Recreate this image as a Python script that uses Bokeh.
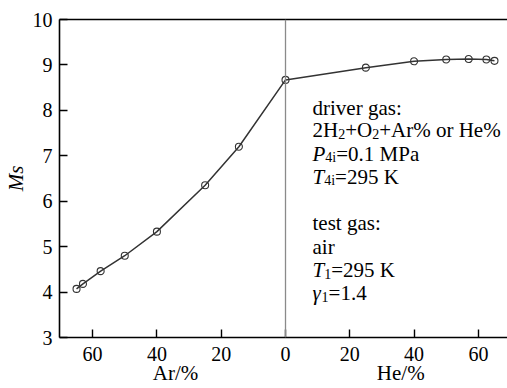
import math
from bokeh.plotting import figure
from bokeh.models import (LinearAxis, FixedTicker, CustomJSTickFormatter, Span, Label, Range1d)
from bokeh.embed import file_html
from bokeh.resources import INLINE

# ---- data ----
ar_pct = [65, 63, 57.5, 50, 40, 25, 14.5, 0]
ms_ar = [4.07, 4.18, 4.46, 4.80, 5.33, 6.35, 7.20, 8.67]
he_pct = [0, 25, 40, 50, 57, 62.5, 65]
ms_he = [8.67, 8.94, 9.08, 9.12, 9.13, 9.12, 9.09]
x_ticks = [-60, -40, -20, 0, 20, 40, 60]
y_ticks = [3, 4, 5, 6, 7, 8, 9, 10]

# Ar on the left (negative side), He on the right
x_all = [-v for v in ar_pct] + he_pct[1:]
y_all = ms_ar + ms_he[1:]

FONT = "Liberation Serif"
NB = "\u00a0"

p = figure(width=507, height=388, output_backend="svg", toolbar_location=None,
           x_range=Range1d(-70.3, 69.05), y_range=Range1d(3, 10),
           min_border_left=59, min_border_right=0, min_border_top=19, min_border_bottom=51,
           x_axis_location=None, y_axis_location=None)
p.outline_line_color = None
p.grid.visible = False
p.background_fill_color = "white"
p.border_fill_color = "white"

xaxis = LinearAxis(ticker=FixedTicker(ticks=x_ticks),
                   formatter=CustomJSTickFormatter(code="return String(Math.abs(tick))"))
yaxis = LinearAxis(ticker=FixedTicker(ticks=y_ticks))
top = LinearAxis(ticker=FixedTicker(ticks=[]))
for ax in (xaxis, yaxis, top):
    ax.axis_line_color = "black"
    ax.axis_line_width = 1.6
    ax.major_tick_line_color = "black"
    ax.major_tick_line_width = 1.4
    ax.major_tick_in = 8
    ax.major_tick_out = 0
    ax.minor_tick_line_color = None
    ax.major_label_text_font = FONT
    ax.major_label_text_font_size = "20px"
    ax.major_label_text_color = "black"
    ax.axis_label_text_font = FONT
    ax.axis_label_text_font_size = "21px"
    ax.axis_label_text_color = "black"
top.major_tick_line_color = None
top.major_label_standoff = 0

xaxis.major_label_standoff = 9
xaxis.axis_label = NB * 2 + "Ar/%" + NB * 34 + "He/%"
xaxis.axis_label_text_font_style = "normal"
xaxis.axis_label_standoff = -3

yaxis.major_label_standoff = 7
yaxis.axis_label = "Ms"
yaxis.axis_label_text_font_style = "italic"
yaxis.axis_label_standoff = 2

p.add_layout(xaxis, "below")
p.add_layout(yaxis, "left")
p.add_layout(top, "above")

p.add_layout(Span(location=0, dimension="height", line_color="#8a8a8a", line_width=1.3))

p.line(x_all, y_all, line_color="#333333", line_width=1.5)
p.scatter(x_all, y_all, marker="circle", size=7, fill_color=None,
          line_color="#333333", line_width=1.1)

# annotation text with subscripts
W = {'2': 500, 'H': 722, '+': 564, 'O': 722, 'A': 722, 'r': 333, '%': 833, ' ': 250,
     'o': 500, 'e': 444, '=': 564, '0': 500, '.': 250, '1': 500, 'M': 889, 'P': 556,
     'a': 444, '9': 500, '5': 500, 'K': 722, '4': 500, 'i': 278, 'd': 500, 'v': 500,
     'g': 500, 's': 389, ':': 278, 't': 278}
WI = {'P': 611, 'T': 556, 'γ': 430}
FS, SS = 21, 14


def width(s, size, italic=False):
    tab = WI if italic else W
    return sum(tab.get(c, W.get(c, 500)) for c in s) * size / 1000.0


def rich_line(x, y, parts):
    off = 0.0
    for txt, kind in parts:
        italic = kind == "i"
        size = SS if kind == "sub" else FS
        p.add_layout(Label(x=x, y=y, x_offset=off, y_offset=-4 if kind == "sub" else 0,
                           text=txt, text_font=FONT, text_font_size=f"{size}px",
                           text_font_style="italic" if italic else "normal",
                           text_align="left", text_baseline="alphabetic",
                           text_color="black"))
        off += width(txt, size, italic)


tx = 8.4
lines = [
    (8.06, [("driver gas:", "n")]),
    (7.56, [("2H", "n"), ("2", "sub"), ("+O", "n"), ("2", "sub"), ("+Ar% or He%", "n")]),
    (7.05, [("P", "i"), ("4i", "sub"), ("=0.1 MPa", "n")]),
    (6.54, [("T", "i"), ("4i", "sub"), ("=295 K", "n")]),
    (5.51, [("test gas:", "n")]),
    (5.00, [("air", "n")]),
    (4.49, [("T", "i"), ("1", "sub"), ("=295 K", "n")]),
    (3.99, [("γ", "i"), ("1", "sub"), ("=1.4", "n")]),
]
for yy, parts in lines:
    rich_line(tx, yy, parts)

open("out.html", "w").write(file_html(p, INLINE))
